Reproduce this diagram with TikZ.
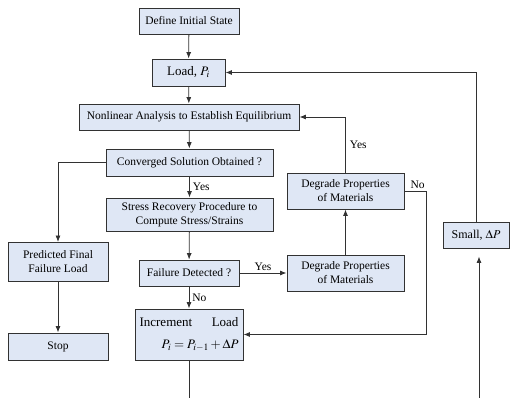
\documentclass[tikz,border=0pt]{standalone}
\usepackage{amsmath}
\usepackage{mathptmx}
\usepackage{fontspec}
\setmainfont{Liberation Serif}
\usetikzlibrary{arrows.meta}

\definecolor{boxfill}{RGB}{223,231,245}
\definecolor{linegray}{RGB}{50,50,50}

\begin{document}
\begin{tikzpicture}[x=1pt,y=1pt,yscale=-1,
  flowbox/.style={draw=linegray,fill=boxfill,line width=0.9pt,inner sep=1pt,align=center,font=\fontsize{11.5}{14}\selectfont},
  flowline/.style={draw=linegray,line width=0.8pt},
  flowarrow/.style={flowline,-{Latex[length=6.5pt,width=5pt]}},
  lbl/.style={inner sep=1pt,font=\fontsize{11.5}{13}\selectfont}]
\useasboundingbox (0,0) rectangle (514,398);

% Boxes
\node [flowbox,minimum width=100,minimum height=26] (init) at (189,21) {Define Initial State};
\node [flowbox,minimum width=73,minimum height=27,font=\fontsize{13}{15}\selectfont] (load) at (188.5,72.5) {Load, $P_i$};
\node [flowbox,minimum width=220,minimum height=26] (nonlin) at (189,117) {Nonlinear Analysis to Establish Equilibrium};
\node [flowbox,minimum width=167,minimum height=27] (conv) at (189.5,162.5) {Converged Solution Obtained ?};
\node [flowbox,minimum width=167,minimum height=33] (stress) at (189.5,214.5) {Stress Recovery Procedure to\\Compute Stress/Strains};
\node [flowbox,minimum width=100,minimum height=39] (pred) at (58,262) {Predicted Final\\Failure Load};
\node [flowbox,minimum width=100,minimum height=27] (stop) at (58,346.5) {Stop};
\node [flowbox,minimum width=100,minimum height=26] (fail) at (189,273) {Failure Detected ?};
\node [flowbox,minimum width=117,minimum height=36] (degL) at (345.5,273) {Degrade Properties\\of Materials};
\node [flowbox,minimum width=117,minimum height=36] (degU) at (345.5,191) {Degrade Properties\\of Materials};
\node [flowbox,minimum width=108,minimum height=51,align=right,font=\fontsize{13}{22}\selectfont] (inc) at (189,334.5) {Increment\hspace{1.5em}Load\\$P_i=P_{i-1}+\Delta P$};
\node [flowbox,minimum width=66,minimum height=26,font=\fontsize{12}{14}\selectfont] (small) at (476,235) {Small, $\Delta P$};

% Free ends at the bottom edge
\coordinate (incEnd) at (189,398);
\coordinate (smallEnd) at (479,398);

% Connectors
\draw [flowarrow] (init) -- (load);
\draw [flowarrow] (load) -- (nonlin);
\draw [flowarrow] (nonlin) -- (conv);
\draw [flowarrow] (conv) -- node [lbl,right=2pt] {Yes} (stress);
\draw [flowarrow] (stress) -- (fail);
\draw [flowarrow] (fail) -- node [lbl,right=2pt] {No} (inc);
\draw [flowarrow] (fail) -- node [lbl,above=1pt] {Yes} (degL);
\draw [flowarrow] (degL) -- (degU);
\draw [flowarrow] (degU.north) -- node [lbl,right=3pt,pos=0.5] {Yes} (degU.north |- nonlin.east) -- (nonlin.east);
\draw [flowarrow] (degU.east) -- node [lbl,above=1pt,pos=0.6] {No} ++(22,0) |- (inc.east);
\draw [flowarrow] (conv.west) -| (pred.north);
\draw [flowarrow] (pred) -- (stop);
\draw [flowline] (inc) -- (incEnd);
\draw [flowarrow,shorten >=8pt] (smallEnd) -- (smallEnd |- small.south);
\draw [flowarrow] (small.north) -- (small.north |- load.east) -- (load.east);

\end{tikzpicture}
\end{document}
